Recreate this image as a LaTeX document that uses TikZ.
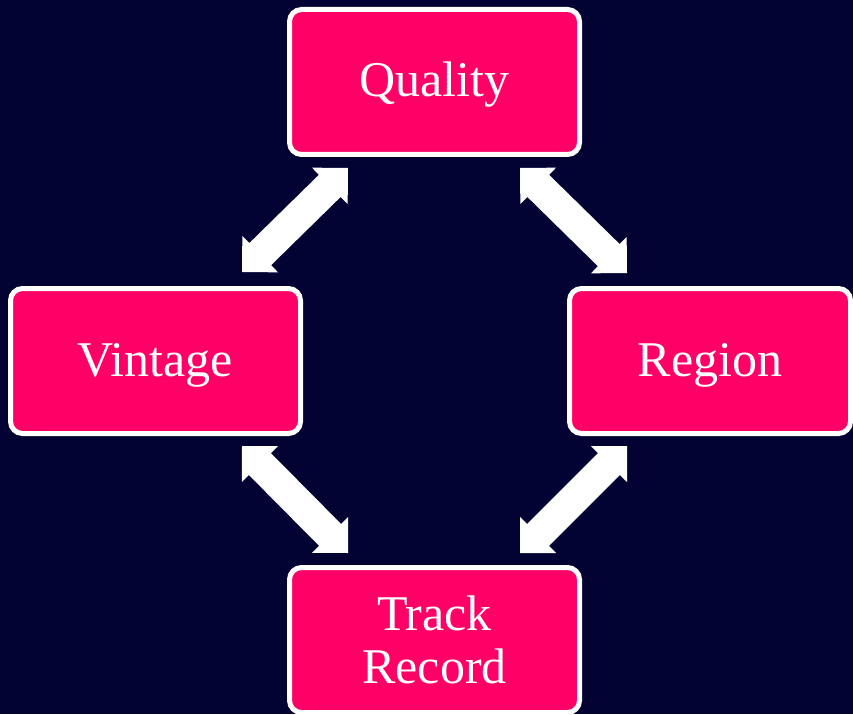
\documentclass[tikz,border=0pt]{standalone}
\usepackage{fontspec}
\setmainfont{Liberation Serif}
\usetikzlibrary{calc}
\definecolor{bgnavy}{HTML}{020233}
\definecolor{boxpink}{HTML}{FF0066}
\newcommand\blockarrow[2]{%
  \fill[white] (#1)
    -- ($(#1)!25.5pt!(#2)!25.5pt!90:(#2)$)
    -- ($(#1)!25.5pt!(#2)!15.5pt!90:(#2)$)
    -- ($(#2)!25.5pt!(#1)!15.5pt!-90:(#1)$)
    -- ($(#2)!25.5pt!(#1)!25.5pt!-90:(#1)$)
    -- (#2)
    -- ($(#2)!25.5pt!(#1)!25.5pt!90:(#1)$)
    -- ($(#2)!25.5pt!(#1)!15.5pt!90:(#1)$)
    -- ($(#1)!25.5pt!(#2)!15.5pt!-90:(#2)$)
    -- ($(#1)!25.5pt!(#2)!25.5pt!-90:(#2)$)
    -- cycle;}
\begin{document}
\begin{tikzpicture}[x=1pt,y=-1pt,
  box/.style={draw=white, line width=5pt, fill=boxpink, rounded corners=12pt,
    minimum width=290pt, minimum height=145pt, inner sep=0pt,
    text=white, align=center, font=\fontsize{50}{53}\selectfont},
  oneline/.style={text height=35pt, text depth=5pt}]
\fill[bgnavy] (0,0) rectangle (853,714);
\useasboundingbox (0,0) rectangle (853,714);
\node[box, oneline] (q) at (434.5,82) {Quality};
\node[box, oneline] (v) at (155.5,361) {Vintage};
\node[box, oneline, minimum width=281pt] (r) at (710,361) {Region};
\node[box] (t) at (434.5,640) {Track\\Record};
\coordinate (qv1) at (348,168);
\coordinate (qv2) at (242,272);
\coordinate (qr1) at (520,168);
\coordinate (qr2) at (627,273);
\coordinate (vt1) at (242,446);
\coordinate (vt2) at (348,553);
\coordinate (rt1) at (627,446);
\coordinate (rt2) at (520,553);
\blockarrow{qv1}{qv2}
\blockarrow{qr1}{qr2}
\blockarrow{vt1}{vt2}
\blockarrow{rt1}{rt2}
\end{tikzpicture}
\end{document}
